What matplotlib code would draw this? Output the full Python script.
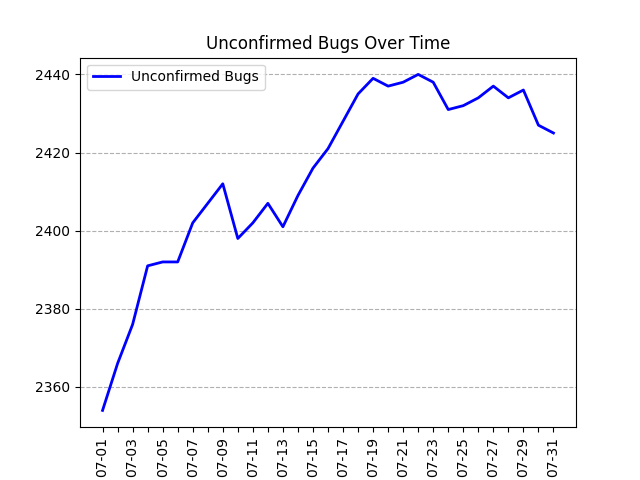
import numpy as np
import pandas as pd
import matplotlib
matplotlib.use('Agg')
import matplotlib.pyplot as plt

# Daily counts of unconfirmed bugs for July
dates = pd.date_range('2024-07-01', '2024-07-31', freq='D')
unconfirmed = [2354, 2366, 2376, 2391, 2392, 2392, 2402, 2407, 2412, 2398,
               2402, 2407, 2401, 2409, 2416, 2421, 2428, 2435, 2439, 2437,
               2438, 2440, 2438, 2431, 2432, 2434, 2437, 2434, 2436, 2427,
               2425]

fig, ax = plt.subplots(figsize=(6.4, 4.8), dpi=100)
ax.plot(dates, unconfirmed, color='blue', linewidth=2, label='Unconfirmed Bugs')

# one tick per day, label every other day
labels = [d.strftime('%m-%d') if i % 2 == 0 else '' for i, d in enumerate(dates)]
ax.set_xticks(dates)
ax.set_xticklabels(labels, rotation=90)

ax.set_title('Unconfirmed Bugs Over Time')
ax.grid(axis='y', linestyle='--', color='#b0b0b0')
ax.legend(loc='upper left')

fig.savefig('out.png')
